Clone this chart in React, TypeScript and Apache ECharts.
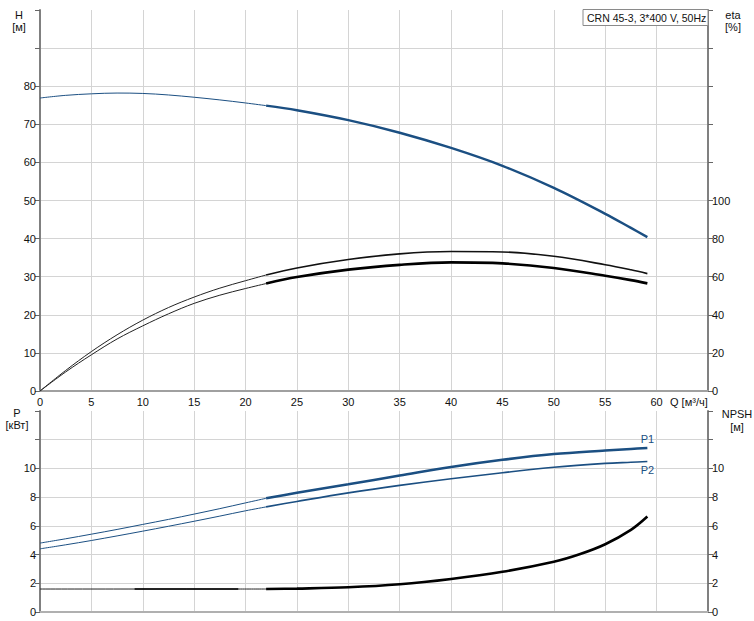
import React, { useEffect, useRef } from "react";
import * as echarts from "echarts";

// Flow values (m³/h) for the thin (low-flow) and thick (operating) parts of curves
const qLow = [0, 2.5, 5, 7.5, 10, 12.5, 15, 17.5, 20, 22];
const qHigh = [22, 25, 30, 35, 40, 45, 50, 55, 57.5, 59.1];

// Head H [m]
const hLow = [76.9, 77.6, 78.0, 78.2, 78.1, 77.7, 77.1, 76.4, 75.6, 74.9];
const hHigh = [74.9, 73.7, 71.1, 67.8, 63.8, 59.1, 53.3, 46.5, 42.8, 40.4];

// Efficiency eta [%]
const eta1Low = [0, 10.8, 20.7, 29.5, 37.2, 43.8, 49.3, 54.0, 57.9, 60.9];
const eta1High = [60.9, 64.6, 69.0, 72.0, 73.2, 73.0, 70.7, 66.3, 63.6, 61.6];
const eta2Low = [0, 10.0, 19.0, 27.3, 34.2, 40.5, 46.0, 50.3, 53.8, 56.4];
const eta2High = [56.4, 59.8, 63.7, 66.2, 67.5, 67.0, 64.6, 60.5, 58.2, 56.5];

// Power P [kW]
const p1Low = [4.8, 5.1, 5.42, 5.75, 6.1, 6.45, 6.82, 7.2, 7.6, 7.92];
const p1High = [7.92, 8.3, 8.9, 9.5, 10.1, 10.6, 11.0, 11.25, 11.36, 11.42];
const p2Low = [4.4, 4.68, 4.98, 5.3, 5.63, 5.97, 6.32, 6.68, 7.05, 7.32];
const p2High = [7.32, 7.7, 8.3, 8.82, 9.28, 9.7, 10.08, 10.35, 10.43, 10.48];

// NPSH [m]
const qNpshLow = [0, 9.2, 19.3, 22];
const npshLow = [1.6, 1.6, 1.6, 1.6];
const qNpshMid = [9.2, 19.3];
const npshMid = [1.6, 1.6];
const qNpshHigh = [22, 25, 30, 35, 40, 45, 50, 52.5, 55, 57.5, 59.1];
const npshHigh = [1.6, 1.63, 1.72, 1.93, 2.3, 2.8, 3.5, 4.02, 4.72, 5.72, 6.65];

// Axis ticks
const qTicks = { min: 0, max: 65, interval: 5, lastLabel: 60 };
const topLeft = { min: 0, max: 100, interval: 10, lastLabel: 80 };
const topRight = { min: 0, max: 200, interval: 20, lastLabel: 100 };
const bottomAxis = { min: 0, max: 14, interval: 2, lastLabel: 10 };

const title = "CRN 45-3, 3*400 V, 50Hz";
const FONT = "Liberation Sans, Arial, sans-serif";
const BLUE = "#1b4f82";

const zip = (xs: number[], ys: number[]) => xs.map((x, i) => [x, ys[i]]);

export default function App() {
  const ref = useRef<HTMLDivElement>(null);
  useEffect(() => {
    document.body.style.margin = "0";
    if (!ref.current) return;
    const chart = echarts.init(ref.current, null, { renderer: "svg" });

    const labelStyle = { color: "#111", fontSize: 11, fontFamily: FONT };
    const fmt = (limit: number) => (v: number) => (v <= limit ? String(v) : "");

    const line = (
      name: string,
      data: any[],
      xi: number,
      yi: number,
      color: string,
      width: number,
      extra: any = {}
    ) => ({
      name,
      type: "line",
      xAxisIndex: xi,
      yAxisIndex: yi,
      data,
      smooth: 0.35,
      symbol: "none",
      showSymbol: false,
      lineStyle: { color, width },
      itemStyle: { color },
      silent: true,
      ...extra,
    });

    const labeled = (data: number[][], text: string, position: string, distance: number) =>
      data.map((d, i) =>
        i === data.length - 1
          ? {
              value: d,
              symbol: "circle",
              symbolSize: 0.1,
              label: {
                show: true,
                formatter: text,
                position,
                distance,
                color: BLUE,
                fontSize: 11,
                fontFamily: FONT,
              },
            }
          : d
      );

    const yAxisBase = (cfg: any, gridIndex: number, position: string, withSplit: boolean) => ({
      type: "value",
      gridIndex,
      position,
      min: cfg.min,
      max: cfg.max,
      interval: cfg.interval,
      axisLine: { show: true, lineStyle: { color: "#808080", width: 2 } },
      axisTick: { show: true, length: 5, lineStyle: { color: "#666" } },
      axisLabel: { ...labelStyle, margin: 4, formatter: fmt(cfg.lastLabel) },
      splitLine: {
        show: withSplit,
        showMaxLine: false,
        lineStyle: { color: "#d4d4d4", width: 1 },
      },
    });

    const option: any = {
      animation: false,
      backgroundColor: "#fff",
      textStyle: { fontFamily: FONT },
      grid: [
        { left: 40, right: 46, top: 10, height: 381 },
        { left: 40, right: 46, top: 411, height: 201 },
      ],
      xAxis: [
        {
          type: "value",
          gridIndex: 0,
          min: qTicks.min,
          max: qTicks.max,
          interval: qTicks.interval,
          axisLine: { show: true, onZero: false, lineStyle: { color: "#a0a0a0", width: 2 } },
          axisTick: { show: false },
          axisLabel: { ...labelStyle, margin: 5, formatter: fmt(qTicks.lastLabel) },
          splitLine: { show: true, lineStyle: { color: "#d4d4d4", width: 1 } },
        },
        {
          type: "value",
          gridIndex: 1,
          min: qTicks.min,
          max: qTicks.max,
          interval: qTicks.interval,
          axisLine: { show: true, onZero: false, lineStyle: { color: "#b0b0b0", width: 2 } },
          axisTick: { show: false },
          axisLabel: { show: false },
          splitLine: { show: true, lineStyle: { color: "#d4d4d4", width: 1 } },
        },
      ],
      yAxis: [
        yAxisBase(topLeft, 0, "left", true),
        yAxisBase(topRight, 0, "right", false),
        yAxisBase(bottomAxis, 1, "left", true),
        yAxisBase(bottomAxis, 1, "right", false),
      ],
      series: [
        line("H low", zip(qLow, hLow), 0, 0, BLUE, 1),
        line("H", zip(qHigh, hHigh), 0, 0, BLUE, 2.5),
        line("eta1 low", zip(qLow, eta1Low), 0, 1, "#222", 1),
        line("eta1", zip(qHigh, eta1High), 0, 1, "#111", 1.6),
        line("eta2 low", zip(qLow, eta2Low), 0, 1, "#222", 1),
        line("eta2", zip(qHigh, eta2High), 0, 1, "#000", 2.6),
        line("P1 low", zip(qLow, p1Low), 1, 2, BLUE, 1),
        line("P1", labeled(zip(qHigh, p1High), "P1", "top", 3), 1, 2, BLUE, 2.5, {
          showSymbol: true,
        }),
        line("P2 low", zip(qLow, p2Low), 1, 2, BLUE, 1),
        line("P2", labeled(zip(qHigh, p2High), "P2", "bottom", 3), 1, 2, BLUE, 1.6, {
          showSymbol: true,
        }),
        line("NPSH low", zip(qNpshLow, npshLow), 1, 3, "#222", 1),
        line("NPSH mid", zip(qNpshMid, npshMid), 1, 3, "#000", 1.6),
        line("NPSH", zip(qNpshHigh, npshHigh), 1, 3, "#000", 2.6),
      ],
      graphic: [
        {
          type: "group",
          silent: true,
          children: [
            { type: "text", x: 19, y: 15, style: { text: "H", font: `11px ${FONT}`, fill: "#111", align: "center", verticalAlign: "middle" } },
            { type: "text", x: 19, y: 27, style: { text: "[м]", font: `11px ${FONT}`, fill: "#111", align: "center", verticalAlign: "middle" } },
            { type: "text", x: 733, y: 15, style: { text: "eta", font: `11px ${FONT}`, fill: "#111", align: "center", verticalAlign: "middle" } },
            { type: "text", x: 733, y: 27, style: { text: "[%]", font: `11px ${FONT}`, fill: "#111", align: "center", verticalAlign: "middle" } },
            { type: "text", x: 17, y: 413, style: { text: "P", font: `11px ${FONT}`, fill: "#111", align: "center", verticalAlign: "middle" } },
            { type: "text", x: 17, y: 425, style: { text: "[кВт]", font: `11px ${FONT}`, fill: "#111", align: "center", verticalAlign: "middle" } },
            { type: "text", x: 737, y: 414, style: { text: "NPSH", font: `11px ${FONT}`, fill: "#111", align: "center", verticalAlign: "middle" } },
            { type: "text", x: 737, y: 427, style: { text: "[м]", font: `11px ${FONT}`, fill: "#111", align: "center", verticalAlign: "middle" } },
            { type: "text", x: 670, y: 402, style: { text: "Q [м³/ч]", font: `11px ${FONT}`, fill: "#111", align: "left", verticalAlign: "middle" } },
            {
              type: "rect",
              shape: { x: 583, y: 9.5, width: 125, height: 16 },
              style: { fill: "#fff", stroke: "#8a8a8a", lineWidth: 1 },
              z: 100,
            },
            {
              type: "text",
              x: 587,
              y: 18,
              z: 101,
              style: { text: title, font: `10.5px ${FONT}`, fill: "#111", align: "left", verticalAlign: "middle" },
            },
          ],
        },
      ],
    };

    chart.setOption(option);
    return () => chart.dispose();
  }, []);

  return <div ref={ref} style={{ width: 754, height: 621 }} />;
}
